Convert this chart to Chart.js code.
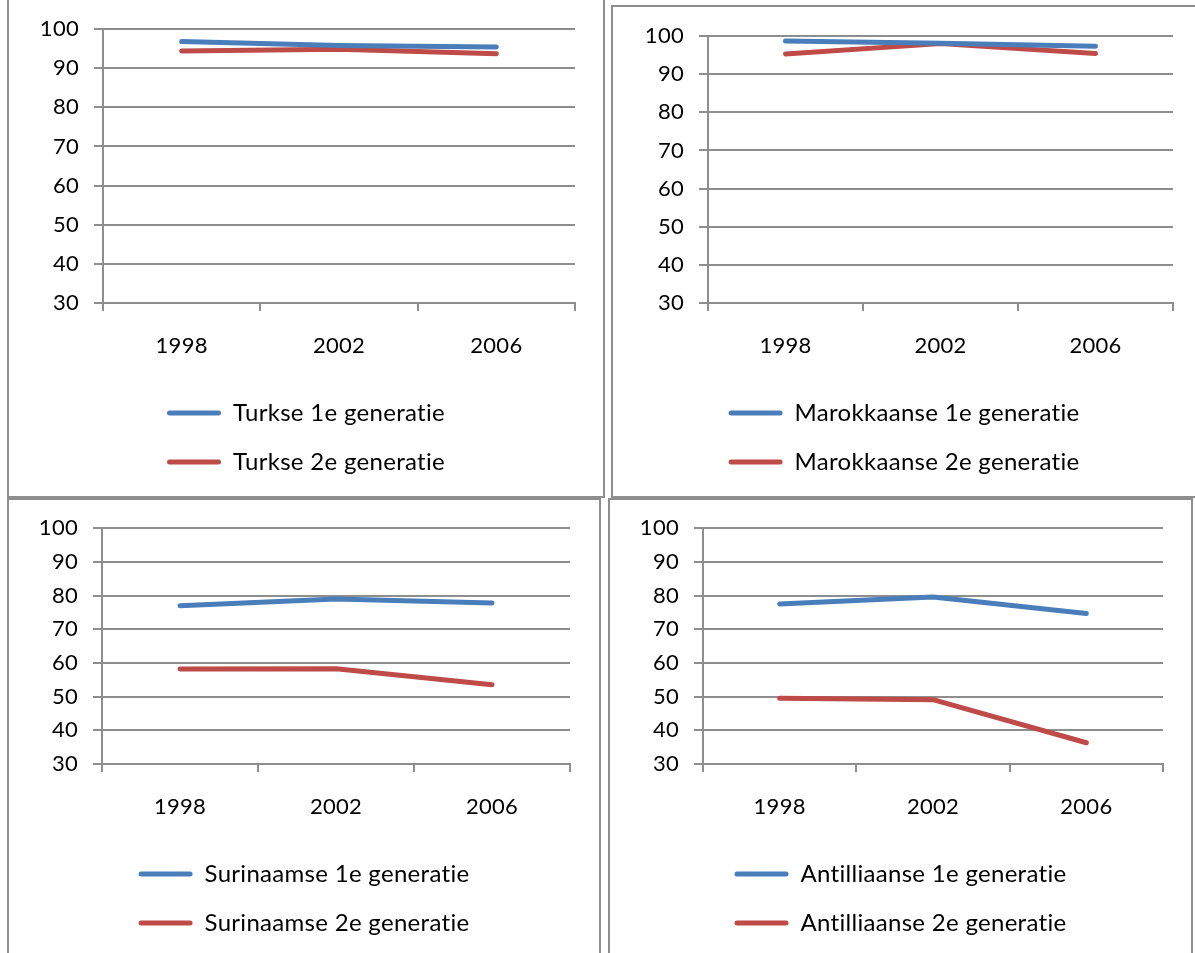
<!DOCTYPE html>
<html>
<head>
<meta charset="utf-8">
<script src="https://cdn.jsdelivr.net/npm/chart.js@4.4.1/dist/chart.umd.min.js"></script>
<style>
  html, body { margin: 0; padding: 0; background: #ffffff; }
  body { width: 1195px; height: 953px; position: relative; overflow: hidden; }
  .frame { position: absolute; box-sizing: border-box; border: 2px solid #8e8e8e; }
  canvas { position: absolute; }
</style>
</head>
<body>
<div class="frame" style="left:7px;top:-3px;width:598px;height:501px;"></div>
<div class="frame" style="left:611px;top:5px;width:600px;height:493px;"></div>
<div class="frame" style="left:7px;top:498px;width:594px;height:470px;"></div>
<div class="frame" style="left:608px;top:498px;width:585px;height:470px;"></div>
<canvas id="c1" width="594" height="496" style="left:9px;top:0px;"></canvas>
<canvas id="c2" width="582" height="489" style="left:613px;top:7px;"></canvas>
<canvas id="c3" width="590" height="453" style="left:9px;top:500px;"></canvas>
<canvas id="c4" width="581" height="453" style="left:610px;top:500px;"></canvas>
<script>
// ---- data ----
const years = ['1998', '2002', '2006'];
const yMin = 30;
const yMax = 100;
const yStep = 10;

const turkse1 = [96.8, 95.8, 95.4];
const turkse2 = [94.4, 94.8, 93.7];
const marokkaanse1 = [98.7, 98.1, 97.3];
const marokkaanse2 = [95.3, 98.0, 95.4];
const surinaamse1 = [77.0, 79.0, 77.8];
const surinaamse2 = [58.2, 58.3, 53.5];
const antilliaanse1 = [77.5, 79.6, 74.7];
const antilliaanse2 = [49.5, 49.1, 36.3];

const labels1 = ['Turkse 1e generatie', 'Turkse 2e generatie'];
const labels2 = ['Marokkaanse 1e generatie', 'Marokkaanse 2e generatie'];
const labels3 = ['Surinaamse 1e generatie', 'Surinaamse 2e generatie'];
const labels4 = ['Antilliaanse 1e generatie', 'Antilliaanse 2e generatie'];

// ---- styling ----
const BLUE = '#4a7ebb';
const RED = '#be4b48';
const GRID = '#8e8e8e';
const TICK_FONT = { family: 'Lato', size: 22 };
const LEGEND_FONT = { family: 'Lato', size: 24 };

// no "ti" ligatures (Calibri-like look): tiny letter spacing
const noLigatures = {
  id: 'noLigatures',
  beforeInit(chart) { chart.ctx.letterSpacing = '0.3px'; },
  beforeLayout(chart) { chart.ctx.letterSpacing = '0.3px'; },
  beforeDraw(chart) { chart.ctx.letterSpacing = '0.3px'; }
};

function makeChart(id, names, s1, s2, lay) {
  const ds = (label, data, color) => ({
    label, data,
    borderColor: color, backgroundColor: color,
    borderWidth: 5, pointRadius: 0, pointHoverRadius: 0,
    tension: 0, borderCapStyle: 'round', borderJoinStyle: 'round'
  });
  return new Chart(document.getElementById(id), {
    type: 'line',
    data: {
      labels: years,
      datasets: [ds(names[0], s1, BLUE), ds(names[1], s2, RED)]
    },
    plugins: [noLigatures],
    options: {
      responsive: false,
      animation: false,
      events: [],
      layout: { padding: { left: 0, right: 0, top: lay.padT, bottom: lay.padB } },
      plugins: {
        tooltip: { enabled: false },
        legend: {
          position: 'bottom',
          align: 'center',
          labels: {
            font: LEGEND_FONT,
            color: '#000000',
            boxWidth: 54,
            boxHeight: 5,
            padding: 25,
            useBorderRadius: true,
            borderRadius: 2.5,
            generateLabels(chart) {
              const items = Chart.defaults.plugins.legend.labels.generateLabels(chart);
              items.forEach(it => { it.lineWidth = 0; it.fillStyle = it.strokeStyle; });
              return items;
            }
          }
        }
      },
      scales: {
        x: {
          type: 'category',
          offset: true,
          afterFit(s) { s.height = lay.xH; },
          grid: {
            display: true, offset: true, drawOnChartArea: false, drawTicks: true,
            tickLength: 8, color: GRID, lineWidth: 2
          },
          border: { display: true, color: GRID, width: 2 },
          ticks: { font: TICK_FONT, color: '#000000', padding: 22, maxRotation: 0 }
        },
        y: {
          min: yMin, max: yMax,
          afterFit(s) { s.width = lay.yW; },
          ticks: { stepSize: yStep, font: TICK_FONT, color: '#000000', padding: 15 },
          grid: { color: GRID, lineWidth: 2, tickLength: 9, drawTicks: true },
          border: { display: true, color: GRID, width: 2 }
        },
        // empty spacer on the right so the legend stays centred on the whole panel
        spacer: {
          type: 'linear',
          position: 'right',
          afterFit(s) { s.width = lay.padR; },
          grid: { display: false, drawTicks: false },
          border: { display: false },
          ticks: { display: false }
        }
      }
    }
  });
}

makeChart('c1', labels1, turkse1, turkse2, { yW: 94, padR: 28, padT: 29, padB: 12, xH: 73 });
makeChart('c2', labels2, marokkaanse1, marokkaanse2, { yW: 95, padR: 22, padT: 29, padB: 12, xH: 73 });
makeChart('c3', labels3, surinaamse1, surinaamse2, { yW: 93, padR: 29, padT: 28, padB: 8, xH: 73 });
makeChart('c4', labels4, antilliaanse1, antilliaanse2, { yW: 93, padR: 28, padT: 28, padB: 8, xH: 73 });
</script>
</body>
</html>
